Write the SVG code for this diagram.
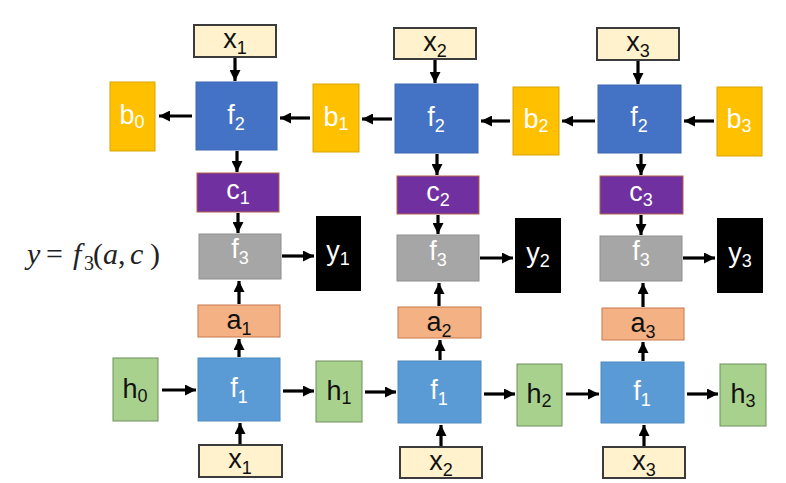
<svg xmlns="http://www.w3.org/2000/svg" width="786" height="483" viewBox="0 0 786 483">
<defs>
<marker id="ah" viewBox="0 0 10 10" refX="10" refY="5" markerWidth="12" markerHeight="11" markerUnits="userSpaceOnUse" orient="auto">
<path d="M0,0 L10,5 L0,10 z" fill="#000"/>
</marker>
<style>
text{font-family:"Liberation Sans",Arial,sans-serif;font-size:27px;text-anchor:middle}
.s{font-size:18px}
.w{fill:#fff}
.k{fill:#111}
.xb{fill:#FFF2CC;stroke:#3b3b3b;stroke-width:2}
.f2{fill:#4472C4;stroke:#3d66b0;stroke-width:1}
.f1{fill:#5B9BD5;stroke:#4f8ac0;stroke-width:1}
.b{fill:#FFC000;stroke:#d9a400;stroke-width:1}
.c{fill:#7030A0;stroke:#b0604a;stroke-width:1}
.f3{fill:#A6A6A6;stroke:#8f8f8f;stroke-width:1}
.y{fill:#000}
.a{fill:#F4B183;stroke:#c8784a;stroke-width:1}
.h{fill:#A9D18E;stroke:#6f8f5c;stroke-width:1}
.ar{stroke:#000;stroke-width:3.2;fill:none;marker-end:url(#ah)}
.fm{font-family:"Liberation Serif","DejaVu Serif",serif;font-size:30px;text-anchor:start;fill:#222}
.it{font-style:italic}
</style>
</defs>
<rect width="786" height="483" fill="#fff"/>

<text class="fm" y="264"><tspan class="it" x="27">y</tspan><tspan x="46">=</tspan><tspan class="it" x="73">f</tspan><tspan font-size="20" x="84" dy="6">3</tspan><tspan x="93" dy="-6">(</tspan><tspan class="it" x="103">a</tspan><tspan x="118">,</tspan><tspan class="it" x="130">c</tspan><tspan x="150">)</tspan></text>

<g id="connectors">
<line class="ar" x1="235" y1="58" x2="235" y2="81"/>
<line class="ar" x1="192" y1="116" x2="159" y2="116"/>
<line class="ar" x1="310" y1="118" x2="280" y2="118"/>
<line class="ar" x1="392" y1="119" x2="362" y2="119"/>
<line class="ar" x1="510" y1="121" x2="481" y2="121"/>
<line class="ar" x1="595" y1="121" x2="562" y2="121"/>
<line class="ar" x1="714" y1="121" x2="684" y2="121"/>
<line class="ar" x1="435" y1="60" x2="435" y2="83"/>
<line class="ar" x1="638" y1="61" x2="638" y2="84"/>
<line class="ar" x1="237" y1="151" x2="237" y2="172"/>
<line class="ar" x1="437" y1="154" x2="437" y2="175"/>
<line class="ar" x1="641" y1="154" x2="641" y2="175"/>
<line class="ar" x1="238" y1="213" x2="238" y2="233"/>
<line class="ar" x1="438" y1="215" x2="438" y2="234"/>
<line class="ar" x1="641" y1="215" x2="641" y2="235"/>
<line class="ar" x1="282" y1="256" x2="314" y2="256"/>
<line class="ar" x1="480" y1="258" x2="513" y2="258"/>
<line class="ar" x1="683" y1="258" x2="715" y2="258"/>
<line class="ar" x1="239" y1="304" x2="239" y2="281"/>
<line class="ar" x1="439" y1="306" x2="439" y2="283"/>
<line class="ar" x1="643" y1="307" x2="643" y2="283"/>
<line class="ar" x1="239" y1="357" x2="239" y2="339"/>
<line class="ar" x1="440" y1="360" x2="440" y2="340"/>
<line class="ar" x1="643" y1="361" x2="643" y2="342"/>
<line class="ar" x1="240" y1="444" x2="240" y2="423"/>
<line class="ar" x1="441" y1="446" x2="441" y2="425"/>
<line class="ar" x1="644" y1="446" x2="644" y2="425"/>
<line class="ar" x1="162" y1="390" x2="196" y2="390"/>
<line class="ar" x1="283" y1="391" x2="314" y2="391"/>
<line class="ar" x1="365" y1="392" x2="396" y2="392"/>
<line class="ar" x1="484" y1="394" x2="515" y2="394"/>
<line class="ar" x1="566" y1="394" x2="599" y2="394"/>
<line class="ar" x1="687" y1="394" x2="718" y2="394"/>
</g>

<g id="x1_top"><rect class="xb" x="194" y="25" width="82" height="32"/><text class="k" x="235" y="48">x<tspan class="s" dy="6">1</tspan></text></g>
<g id="x2_top"><rect class="xb" x="394" y="28" width="82" height="31"/><text class="k" x="435" y="51">x<tspan class="s" dy="6">2</tspan></text></g>
<g id="x3_top"><rect class="xb" x="597" y="28" width="82" height="32"/><text class="k" x="638" y="51">x<tspan class="s" dy="6">3</tspan></text></g>

<g id="f2_1"><rect class="f2" x="196" y="82" width="81" height="68"/><text class="w" x="236" y="124">f<tspan class="s" dy="6">2</tspan></text></g>
<g id="f2_2"><rect class="f2" x="395" y="84" width="83" height="69"/><text class="w" x="436" y="126">f<tspan class="s" dy="6">2</tspan></text></g>
<g id="f2_3"><rect class="f2" x="598" y="85" width="83" height="68"/><text class="w" x="639" y="126">f<tspan class="s" dy="6">2</tspan></text></g>

<g id="b0"><rect class="b" x="110" y="82" width="45" height="69"/><text class="w" x="132" y="124">b<tspan class="s" dy="4">0</tspan></text></g>
<g id="b1"><rect class="b" x="313" y="84" width="46" height="68"/><text class="w" x="336" y="126">b<tspan class="s" dy="4">1</tspan></text></g>
<g id="b2"><rect class="b" x="513" y="87" width="46" height="68"/><text class="w" x="536" y="128">b<tspan class="s" dy="4">2</tspan></text></g>
<g id="b3"><rect class="b" x="717" y="87" width="45" height="69"/><text class="w" x="739" y="128">b<tspan class="s" dy="4">3</tspan></text></g>

<g id="c1"><rect class="c" x="197" y="173" width="82" height="39"/><text class="w" x="238" y="199">c<tspan class="s" dy="5">1</tspan></text></g>
<g id="c2"><rect class="c" x="397" y="176" width="82" height="38"/><text class="w" x="438" y="201">c<tspan class="s" dy="5">2</tspan></text></g>
<g id="c3"><rect class="c" x="600" y="176" width="83" height="38"/><text class="w" x="641" y="201">c<tspan class="s" dy="5">3</tspan></text></g>

<g id="f3_1"><rect class="f3" x="199" y="234" width="82" height="45"/><text class="w" x="240" y="258">f<tspan class="s" dy="6">3</tspan></text></g>
<g id="f3_2"><rect class="f3" x="397" y="235" width="82" height="46"/><text class="w" x="438" y="260">f<tspan class="s" dy="6">3</tspan></text></g>
<g id="f3_3"><rect class="f3" x="600" y="236" width="82" height="45"/><text class="w" x="641" y="260">f<tspan class="s" dy="6">3</tspan></text></g>

<g id="y1"><rect class="y" x="316" y="216" width="45" height="75"/><text class="w" x="338" y="260">y<tspan class="s" dy="5">1</tspan></text></g>
<g id="y2"><rect class="y" x="515" y="218" width="46" height="75"/><text class="w" x="538" y="262">y<tspan class="s" dy="5">2</tspan></text></g>
<g id="y3"><rect class="y" x="717" y="218" width="46" height="75"/><text class="w" x="740" y="262">y<tspan class="s" dy="5">3</tspan></text></g>

<g id="a1"><rect class="a" x="198" y="305" width="82" height="32"/><text class="k" x="239" y="329">a<tspan class="s" dy="6">1</tspan></text></g>
<g id="a2"><rect class="a" x="398" y="307" width="83" height="31"/><text class="k" x="439" y="331">a<tspan class="s" dy="6">2</tspan></text></g>
<g id="a3"><rect class="a" x="602" y="308" width="82" height="32"/><text class="k" x="643" y="332">a<tspan class="s" dy="6">3</tspan></text></g>

<g id="h0"><rect class="h" x="113" y="358" width="45" height="63"/><text class="k" x="135" y="398">h<tspan class="s" dy="4">0</tspan></text></g>
<g id="h1"><rect class="h" x="316" y="361" width="46" height="61"/><text class="k" x="339" y="400">h<tspan class="s" dy="4">1</tspan></text></g>
<g id="h2"><rect class="h" x="517" y="364" width="45" height="62"/><text class="k" x="539" y="403">h<tspan class="s" dy="4">2</tspan></text></g>
<g id="h3"><rect class="h" x="720" y="364" width="46" height="62"/><text class="k" x="743" y="403">h<tspan class="s" dy="4">3</tspan></text></g>

<g id="f1_1"><rect class="f1" x="198" y="358" width="82" height="63"/><text class="w" x="239" y="397">f<tspan class="s" dy="6">1</tspan></text></g>
<g id="f1_2"><rect class="f1" x="398" y="361" width="83" height="62"/><text class="w" x="439" y="399">f<tspan class="s" dy="6">1</tspan></text></g>
<g id="f1_3"><rect class="f1" x="601" y="362" width="83" height="61"/><text class="w" x="642" y="400">f<tspan class="s" dy="6">1</tspan></text></g>

<g id="x1_bot"><rect class="xb" x="199" y="445" width="83" height="32"/><text class="k" x="240" y="468">x<tspan class="s" dy="6">1</tspan></text></g>
<g id="x2_bot"><rect class="xb" x="400" y="447" width="82" height="31"/><text class="k" x="441" y="470">x<tspan class="s" dy="6">2</tspan></text></g>
<g id="x3_bot"><rect class="xb" x="603" y="447" width="82" height="31"/><text class="k" x="644" y="470">x<tspan class="s" dy="6">3</tspan></text></g>
</svg>
